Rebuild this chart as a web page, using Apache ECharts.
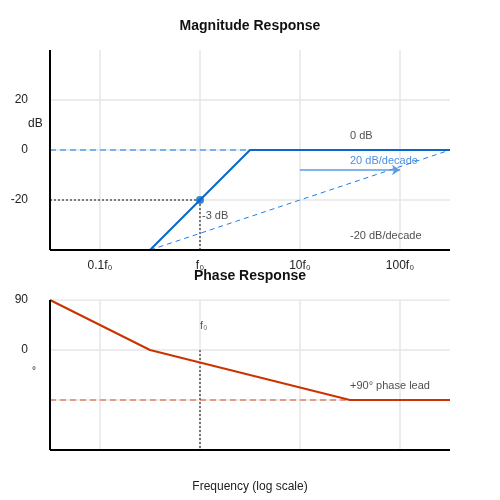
<!DOCTYPE html>
<html><head><meta charset="utf-8">
<script src="https://cdn.jsdelivr.net/npm/echarts@6/dist/echarts.min.js"></script>
<style>html,body{margin:0;padding:0}#c{width:500px;height:500px}</style></head>
<body><div id="c"></div>
<script>
// x values are log10(f / f0)
const xTickLabels = {'-1':'0.1f\u2080','0':'f\u2080','1':'10f\u2080','2':'100f\u2080'};
const xGridValues = [-1,0,1,2];
const magGridValues = [-20,0,20];
const phaseGridValues = [-90,0,90];
const magAsymptote = [[-1.5,-40],[-0.5,-40],[0.5,0],[2.5,0]];
const magSlopeDashed = [[-0.5,-40],[2.5,0]];
const magZeroDashed = [[-1.5,0],[0.5,0]];
const cornerPoint = [[0,-20]];
const cornerGuideH = [[-1.5,-20],[0,-20]];
const cornerGuideV = [[0,-20],[0,-40]];
const arrowLine = [[1,-8],[2,-8]];
const magLabels = [
  {value:[1.5,5.6], text:'0 dB', color:'#222'},
  {value:[1.5,-4.4], text:'20 dB/decade', color:'#1a73d9'},
  {value:[1.5,-34.4], text:'-20 dB/decade', color:'#222'},
  {value:[0.02,-26.4], text:'-3 dB', color:'#222'}
];
const phaseLine = [[-1.5,90],[-0.5,0],[1.5,-90],[2.5,-90]];
const phaseDashed = [[-1.5,-90],[1.5,-90]];
const phaseGuideV = [[0,0],[0,-180]];
const phaseLabels = [
  {value:[0,43], text:'f\u2080', color:'#333'},
  {value:[1.5,-64.8], text:'+90\u00b0 phase lead', color:'#222'}
];

const font = 'Liberation Sans, Arial, sans-serif';
const xCommon = {
  type:'value', min:-1.5, max:2.5, interval:0.5,
  axisLine:{show:false}, axisTick:{show:false}, splitLine:{show:false}
};
function textSeries(arr, xi){
  return {type:'scatter', xAxisIndex:xi, yAxisIndex:xi, symbolSize:0, silent:true,
    data: arr.map(d=>({value:d.value, label:{show:true, formatter:d.text, position:'right', distance:0,
      color:d.color, fontSize:11, fontFamily:font}}))};
}
function ln(data, xi, color, width, type, z){
  return {type:'line', xAxisIndex:xi, yAxisIndex:xi, data, symbol:'none', silent:true, z:z||2,
    lineStyle:{color, width, type}};
}
const gridStyle = ['#e6e6e6',1.5,'solid',1];
const gridSeries = [];
xGridValues.forEach(v=>{
  gridSeries.push(ln([[v,-40],[v,40]],0,...gridStyle));
  gridSeries.push(ln([[v,-180],[v,90]],1,...gridStyle));
});
magGridValues.forEach(v=>gridSeries.push(ln([[-1.5,v],[2.5,v]],0,...gridStyle)));
phaseGridValues.forEach(v=>gridSeries.push(ln([[-1.5,v],[2.5,v]],1,...gridStyle)));

const chart = echarts.init(document.getElementById('c'));
chart.setOption({
  animation:false,
  title:[
    {text:'Magnitude Response', left:'center', top:14, textStyle:{fontSize:14, fontWeight:'bold', color:'#111', fontFamily:font}},
    {text:'Phase Response', left:'center', top:264, textStyle:{fontSize:14, fontWeight:'bold', color:'#111', fontFamily:font}},
    {text:'dB', left:23, top:113, textStyle:{fontSize:12, fontWeight:'normal', color:'#222', fontFamily:font}},
    {text:'\u00b0', left:27, top:361, textStyle:{fontSize:10, fontWeight:'normal', color:'#222', fontFamily:font}}
  ],
  grid:[{left:50, top:50, width:400, height:200},{left:50, top:300, width:400, height:150}],
  xAxis:[
    Object.assign({}, xCommon, {gridIndex:0, axisLabel:{show:true, margin:10, fontSize:12, color:'#222', fontFamily:font,
      formatter:v=>xTickLabels[String(v)]||''}}),
    Object.assign({}, xCommon, {gridIndex:1, axisLabel:{show:false},
      name:'Frequency (log scale)', nameLocation:'middle', nameGap:31, nameTextStyle:{fontSize:12, color:'#222', fontFamily:font}})
  ],
  yAxis:[
    {type:'value', gridIndex:0, min:-40, max:40, interval:20,
     axisLine:{show:false}, axisTick:{show:false}, splitLine:{show:false},
     axisLabel:{fontSize:12, color:'#222', margin:22, fontFamily:font, verticalAlign:'middle', padding:[0,0,8,0],
       formatter:v=>(v===40||v===-40)?'':String(v)}},
    {type:'value', gridIndex:1, min:-180, max:90, interval:90,
     axisLine:{show:false}, axisTick:{show:false}, splitLine:{show:false},
     axisLabel:{fontSize:12, color:'#222', margin:22, fontFamily:font, verticalAlign:'middle', padding:[0,0,8,0],
       formatter:v=>(v===90||v===0)?String(v):''}}
  ],
  series:gridSeries.concat([
    ln(magZeroDashed,0,'#5a9be6',1.5,[6,4]),
    ln(magSlopeDashed,0,'#2a7de0',1,[5,4]),
    ln(cornerGuideH,0,'#555',1.5,[2,2]),
    ln(cornerGuideV,0,'#555',1.5,[2,2]),
    ln(magAsymptote,0,'#0a66cc',2,'solid',3),
    {type:'scatter', xAxisIndex:0, yAxisIndex:0, data:cornerPoint, symbolSize:8, itemStyle:{color:'#0a66cc'}, z:4},
    {type:'line', xAxisIndex:0, yAxisIndex:0, data:[], markLine:{silent:true, symbol:['none','arrow'], symbolSize:8, label:{show:false},
      lineStyle:{color:'#5a9be6', width:1.5, type:'solid'},
      data:[[{coord:arrowLine[0]},{coord:arrowLine[1]}]]}},
    textSeries(magLabels,0),
    ln(phaseDashed,1,'#e0806a',1.5,[6,4]),
    ln(phaseGuideV,1,'#555',1.5,[2,2]),
    ln(phaseLine,1,'#cc3300',2,'solid',3),
    textSeries(phaseLabels,1),
    ln([[-1.5,-40],[-1.5,40]],0,'#000',2,'solid',5),
    ln([[-1.5,-40],[2.5,-40]],0,'#000',2,'solid',5),
    ln([[-1.5,-180],[-1.5,90]],1,'#000',2,'solid',5),
    ln([[-1.5,-180],[2.5,-180]],1,'#000',2,'solid',5)
  ])
});
</script></body></html>
